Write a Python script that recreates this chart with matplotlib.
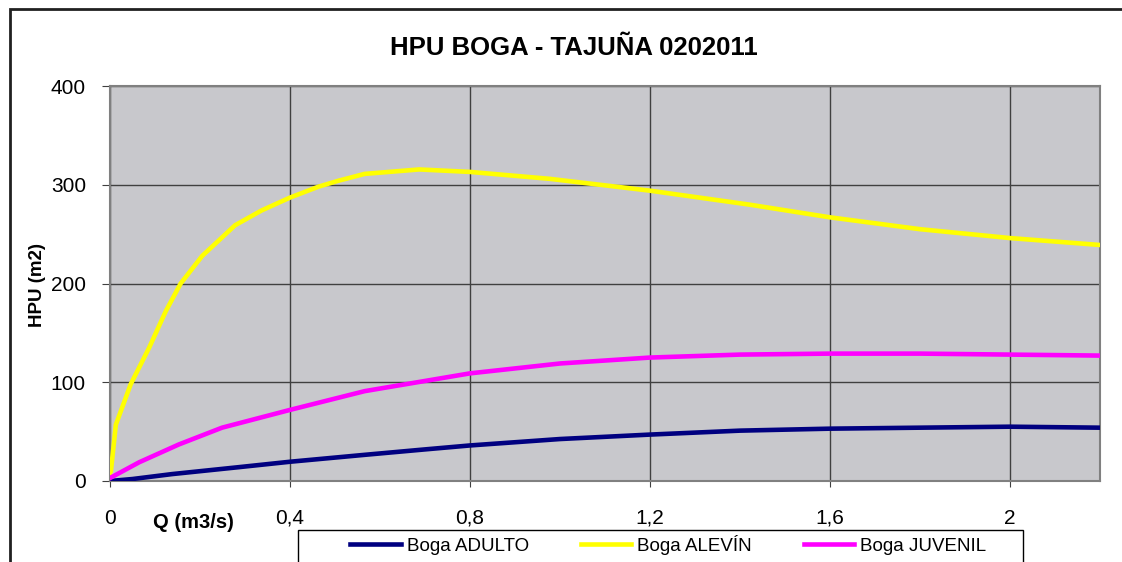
import matplotlib.pyplot as plt
from matplotlib.patches import Rectangle
from matplotlib.ticker import FuncFormatter

plt.rcParams['font.family'] = ['Liberation Sans', 'DejaVu Sans']

# caudal Q (m3/s) and HPU (m2)
q_alevin = [0.0, 0.002, 0.013, 0.046, 0.087, 0.124, 0.157, 0.205, 0.278, 0.337, 0.4, 0.463,
            0.507, 0.566, 0.687, 0.8, 0.977, 1.2, 1.419, 1.6, 1.8, 2.0, 2.2]
hpu_alevin = [8, 10, 57, 98, 135, 172, 200, 228, 259, 274, 287, 298,
              304, 311, 315.5, 313, 306, 294, 280, 267, 255, 246, 239]

q_juvenil = [0.0, 0.065, 0.153, 0.249, 0.4, 0.566, 0.8, 1.0, 1.2, 1.4, 1.6, 1.8, 2.0, 2.2]
hpu_juvenil = [3, 19, 37, 54, 72, 91, 109, 119, 125, 128, 129, 129, 128, 127]

q_adulto = [0.0, 0.05, 0.138, 0.286, 0.4, 0.566, 0.7, 0.8, 1.0, 1.2, 1.4, 1.6, 1.8, 2.0, 2.2]
hpu_adulto = [0, 2, 7, 14, 19.5, 26.5, 32, 36, 42.5, 47, 51, 53, 54, 55, 54]

fig = plt.figure(figsize=(11.22, 5.62), dpi=100)
ax = fig.add_axes([110/1122, 81/562, 990/1122, 395/562])
ax.set_facecolor('#c8c8cc')

ax.plot(q_adulto, hpu_adulto, color='#000080', lw=3.3, label='Boga ADULTO', zorder=3)
ax.plot(q_alevin, hpu_alevin, color='#ffff00', lw=3.3, label='Boga ALEVÍN', zorder=3)
ax.plot(q_juvenil, hpu_juvenil, color='#ff00ff', lw=3.3, label='Boga JUVENIL', zorder=3)

ax.set_xlim(0, 2.2)
ax.set_ylim(0, 400)
ax.set_xticks([0, 0.4, 0.8, 1.2, 1.6, 2.0])
ax.set_yticks([0, 100, 200, 300, 400])
ax.xaxis.set_major_formatter(FuncFormatter(lambda v, p: ('%g' % v).replace('.', ',')))
ax.grid(True, color='#404040', lw=1)
ax.set_axisbelow(True)
for s in ax.spines.values():
    s.set_color('#808080')
    s.set_linewidth(1.5)
ax.tick_params(axis='y', length=5.8, color='#404040', labelsize=15, pad=11.5)
ax.tick_params(axis='x', length=4, color='#404040', labelsize=15, pad=16)

fig.text(574/1122, 1 - 48/562, 'HPU BOGA - TAJUÑA 0202011', ha='center', va='center',
         fontsize=18.5, fontweight='bold')
fig.text(37/1122, 1 - 285/562, 'HPU (m2)', rotation=90, ha='center', va='center',
         fontsize=13.5, fontweight='bold')
fig.text(193/1122, 1 - 522/562, 'Q (m3/s)', ha='center', va='center',
         fontsize=14.5, fontweight='bold')

# legend without its own frame, box drawn separately (bottom is cut off)
leg = fig.legend(loc='center left', bbox_to_anchor=(350/1122, 1 - 545/562), ncol=3,
                 fontsize=13.5, frameon=False, borderpad=0, borderaxespad=0,
                 handlelength=2.7, handletextpad=0.33, columnspacing=2.75)
fig.patches.append(Rectangle((298/1122, -0.05), 725/1122, 0.05 + 32/562,
                             transform=fig.transFigure, fill=False,
                             edgecolor='black', lw=1))

fig.patches.append(Rectangle((10/1122, -0.1), 1.2, 1 - 9/562 + 0.1, transform=fig.transFigure,
                             fill=False, edgecolor='#202020', lw=2))

fig.savefig('out.png', dpi=100)
